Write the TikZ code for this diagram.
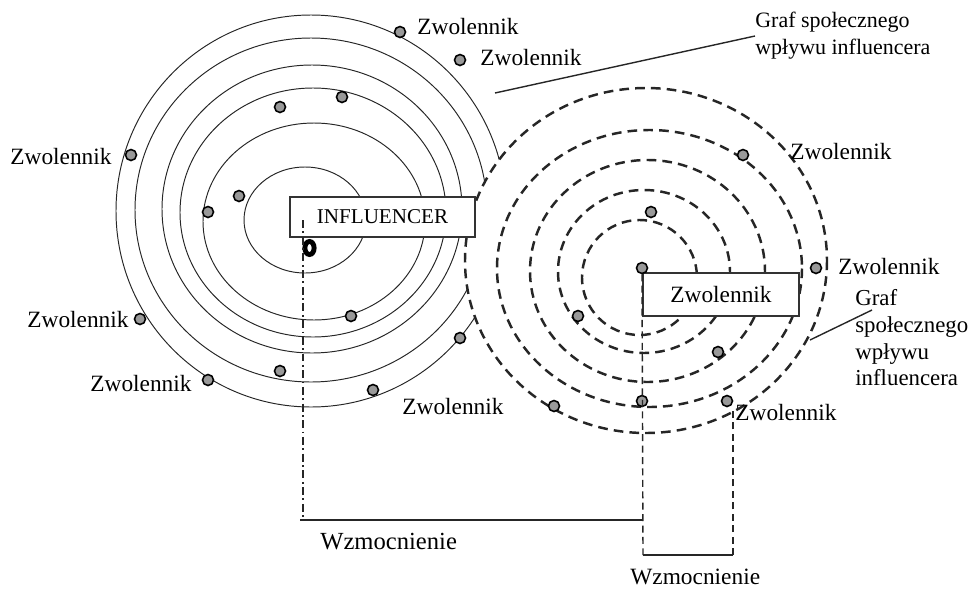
\documentclass[tikz,border=0pt]{standalone}
\usepackage{fontspec}
\setmainfont{Liberation Serif}
\usepackage{tikz}
\usetikzlibrary{calc,positioning}

\begin{document}
\begin{tikzpicture}[x=0.02cm, y=-0.02cm,
    ring/.style={black!85, line width=0.55pt},
    dring/.style={black!85, line width=1.4pt, dash pattern=on 5.5pt off 3.5pt},
    follower/.style={circle, draw=black, fill=black!40, line width=0.9pt, minimum size=0.22cm, inner sep=0pt},
    lbl/.style={anchor=west, inner sep=0pt, font=\fontsize{13.3}{15}\selectfont},
    boxnode/.style={draw=black!80, fill=white, line width=0.6pt, inner sep=0pt},
    link/.style={black!85, line width=0.8pt, dash pattern=on 4pt off 2.5pt},
    dashdotlink/.style={black!85, line width=0.8pt, dash pattern=on 4.5pt off 2pt on 1pt off 2pt},
    bar/.style={black!85, line width=0.8pt}]
    \useasboundingbox (0,0) rectangle (971,589);

    % Graf influencera (cienkie elipsy)
    \foreach \cx/\cy/\rx/\ry in {305/220/61/53, 314/221.5/111/98.5, 313/212.5/133/124.5,
                                 312/209/150/144, 311/210/176/172, 311/211/195/196}
        \draw[ring] (\cx,\cy) ellipse [x radius=\rx, y radius=\ry];

    % Graf zwolennika (grube przerywane elipsy)
    \fill[white] (646,260.5) ellipse [x radius=181, y radius=172.5];
    \foreach \cx/\cy/\rx/\ry in {639.5/277.5/57.5/57.5, 644/271.5/86/81.5, 647.5/271/117.5/111,
                                 649.5/268.5/152.5/138.5, 646/260.5/181/172.5}
        \draw[dring] (\cx,\cy) ellipse [x radius=\rx, y radius=\ry];

    % Prostokaty
    \node[boxnode, minimum width=3.7cm, minimum height=0.8cm, font=\fontsize{12}{14}\selectfont]
        (infl) at (382.5,217) {INFLUENCER};
    \node[boxnode, minimum width=3.12cm, minimum height=0.86cm, font=\fontsize{13.3}{15}\selectfont]
        (zbox) at (721,294.5) {Zwolennik};

    % Znacznik influencera
    \draw[black, line width=2.8pt] (309.5,248) ellipse [x radius=4.6, y radius=6.5];

    % Zwolennicy (kropki)
    \foreach \name/\px/\py in {d1/400/32, d2/460/60, d3/131/155, d4/280/107, d5/342/97,
                               d6/239/196, d7/208/212, d8/140/319, d9/208/380, d10/280/371,
                               d11/351/316, d12/460/338, d13/373/390,
                               e1/743/155, e2/651/212, e3/642/268, e4/816/268, e5/578/316,
                               e6/718/352, e7/554/406, e8/642/401, e9/727/401}
        \node[follower] (\name) at (\px,\py) {};

    % Wzmocnienie (polaczenia)
    \coordinate (a1) at (303,220);
    \coordinate (a2) at (303,520);
    \coordinate (a3) at (643,520);
    \coordinate (b1) at (643,555);
    \coordinate (b2) at (733,555);
    \coordinate (b3) at (733,407);
    \draw[dashdotlink] (a1) -- (a2);
    \draw[bar] ($(a2)+(-3,0)$) -- (a3);
    \draw[link] (e3.south) -- (b1);
    \draw[bar] (b1) -- (b2);
    \draw[link] (b2) -- (b3);
    \node[lbl, font=\fontsize{14}{16}\selectfont] (w1) at (320,542) {Wzmocnienie};
    \node[lbl] (w2) at (630,577) {Wzmocnienie};

    % Etykiety zwolennikow
    \node[lbl] (z1) at (417,27) {Zwolennik};
    \node[lbl] (z2) at (480,58) {Zwolennik};
    \node[lbl] (z3) at (10,157) {Zwolennik};
    \node[lbl] (z4) at (27,320) {Zwolennik};
    \node[lbl] (z5) at (90,384) {Zwolennik};
    \node[lbl] (z6) at (402,407) {Zwolennik};
    \node[lbl] (z7) at (790,152) {Zwolennik};
    \node[lbl] (z8) at (838,267) {Zwolennik};
    \node[lbl] (z9) at (735,413) {Zwolennik};

    % Opisy grafow
    \node[lbl, align=left, font=\fontsize{12.5}{15.3}\selectfont] (g1) at (755,36)
        {Graf społecznego\\wpływu influencera};
    \node[lbl, align=left, font=\fontsize{13}{15.2}\selectfont] (g2) at (855,338)
        {Graf\\społecznego\\wpływu\\influencera};
    \coordinate (p1) at (495,93);
    \coordinate (p2) at (810,340);
    \draw[bar] (p1) -- (g1.west);
    \draw[bar] (p2) -- ($(g2.west)+(17,-28)$);
\end{tikzpicture}
\end{document}
